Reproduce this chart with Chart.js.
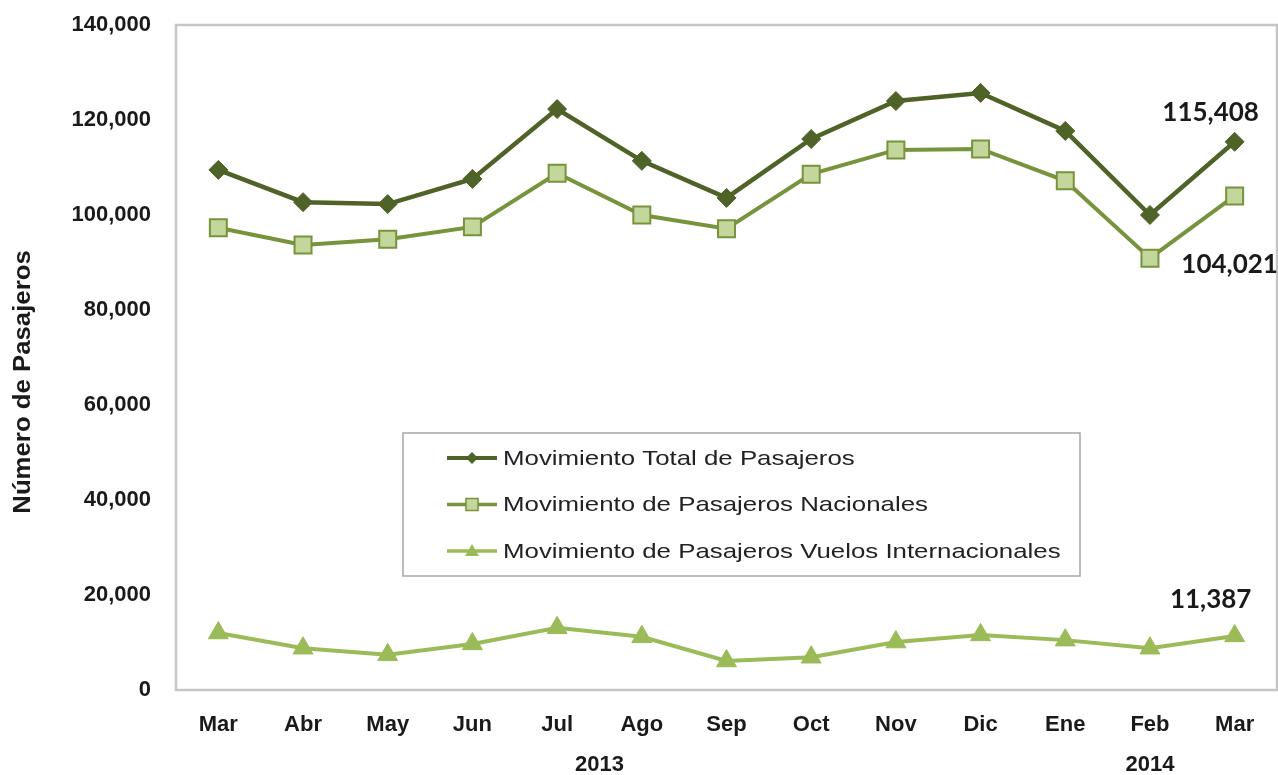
<!DOCTYPE html>
<html>
<head>
<meta charset="utf-8">
<script src="https://cdn.jsdelivr.net/npm/chart.js@4.4.1/dist/chart.umd.min.js"></script>
<style>
  html, body { margin: 0; padding: 0; background: #fff; overflow: hidden; }
  #wrap { width: 1278px; height: 775px; position: relative; }
</style>
</head>
<body>
<div id="wrap"><canvas id="chart"></canvas></div>
<script>
// months Mar 2013 .. Mar 2014
const months = ['Mar', 'Abr', 'May', 'Jun', 'Jul', 'Ago', 'Sep', 'Oct', 'Nov', 'Dic', 'Ene', 'Feb', 'Mar'];
const years = [
  { label: '2013', from: 0, to: 9 },
  { label: '2014', from: 10, to: 12 }
];

const totalPax = [109500, 102700, 102300, 107600, 122300, 111400, 103600, 116000, 124000, 125700, 117700, 100000, 115408];
const nacionalPax = [97300, 93700, 94900, 97500, 108800, 100000, 97100, 108600, 113700, 113900, 107200, 90900, 104021];
const internacionalPax = [12000, 8800, 7400, 9700, 13100, 11200, 6100, 6900, 10100, 11600, 10500, 8800, 11387];

const yTicks = [0, 20000, 40000, 60000, 80000, 100000, 120000, 140000];

const fmt = v => v.toLocaleString('en-US');

const seriesNames = [
  'Movimiento Total de Pasajeros',
  'Movimiento de Pasajeros Nacionales',
  'Movimiento de Pasajeros Vuelos Internacionales'
];
const yTitle = 'Número de Pasajeros';

// colours (Excel olive greens)
const cTotal = '#4F6228';
const cNac = '#77933C';
const cNacFill = '#C3D69B';
const cInt = '#9BBB59';

const arialB = '"Liberation Sans", Arial, sans-serif';

// plot frame, axis title, year labels, legend box, end labels
const extras = {
  id: 'extras',
  beforeDatasetsDraw(chart) {
    const { ctx, chartArea: a } = chart;
    ctx.save();
    ctx.strokeStyle = '#C6C6C6';
    ctx.lineWidth = 2.5;
    ctx.strokeRect(a.left, a.top, a.right - a.left, a.bottom - a.top);

    // y axis title (a bit stretched like the original)
    ctx.translate(24, 382);
    ctx.rotate(-Math.PI / 2);
    ctx.font = 'bold 23px ' + arialB;
    ctx.fillStyle = '#1a1a1a';
    ctx.textAlign = 'center';
    ctx.textBaseline = 'middle';
    ctx.scale(1.12, 1);
    ctx.fillText(yTitle, 0, 0);
    ctx.restore();
  },
  afterDatasetsDraw(chart) {
    const { ctx, chartArea: a, scales } = chart;
    const x = scales.x, y = scales.y;
    ctx.save();

    // year labels under the month ticks
    ctx.font = 'bold 22px ' + arialB;
    ctx.fillStyle = '#1a1a1a';
    ctx.textAlign = 'center';
    ctx.textBaseline = 'middle';
    years.forEach(yr => {
      const cx = (x.getPixelForValue(yr.from) + x.getPixelForValue(yr.to)) / 2;
      ctx.fillText(yr.label, cx, a.bottom + 75);
    });

    // last-point value labels
    const last = months.length - 1;
    const px = x.getPixelForValue(last);
    ctx.font = 'bold 26px Lato, "Liberation Sans", sans-serif';
    ctx.fillStyle = '#1a1a1a';
    ctx.fillText(fmt(totalPax[last]), px - 24, y.getPixelForValue(totalPax[last]) - 29);
    ctx.fillText(fmt(nacionalPax[last]), px - 5, y.getPixelForValue(nacionalPax[last]) + 69);
    ctx.fillText(fmt(internacionalPax[last]), px - 24, y.getPixelForValue(internacionalPax[last]) - 36);

    // legend box
    const bx = a.left + 227, by = a.top + 408, bw = 677, bh = 143;
    ctx.fillStyle = '#fff';
    ctx.fillRect(bx, by, bw, bh);
    ctx.strokeStyle = '#A6A6A6';
    ctx.lineWidth = 1.5;
    ctx.strokeRect(bx, by, bw, bh);

    const items = [
      { color: cTotal, fill: cTotal, shape: 'diamond', lw: 4 },
      { color: cNac, fill: cNacFill, shape: 'square', lw: 3.5 },
      { color: cInt, fill: cInt, shape: 'triangle', lw: 3.5 }
    ];
    items.forEach((it, i) => {
      const ly = by + 25 + i * 46.5;
      const lx0 = bx + 44, lx1 = bx + 94, mx = (lx0 + lx1) / 2;
      ctx.strokeStyle = it.color;
      ctx.lineWidth = it.lw;
      ctx.beginPath();
      ctx.moveTo(lx0, ly);
      ctx.lineTo(lx1, ly);
      ctx.stroke();
      ctx.fillStyle = it.fill;
      ctx.lineWidth = 1.5;
      ctx.beginPath();
      if (it.shape === 'diamond') {
        ctx.moveTo(mx, ly - 6); ctx.lineTo(mx + 6, ly); ctx.lineTo(mx, ly + 6); ctx.lineTo(mx - 6, ly);
        ctx.closePath(); ctx.fill();
      } else if (it.shape === 'square') {
        ctx.rect(mx - 6, ly - 6, 12, 12); ctx.fill(); ctx.stroke();
      } else {
        ctx.moveTo(mx, ly - 7); ctx.lineTo(mx + 7, ly + 5); ctx.lineTo(mx - 7, ly + 5);
        ctx.closePath(); ctx.fill();
      }
      ctx.save();
      ctx.translate(bx + 100, ly + 1);
      ctx.scale(1.23, 1);
      ctx.font = '21px ' + arialB;
      ctx.fillStyle = '#222';
      ctx.textAlign = 'left';
      ctx.textBaseline = 'middle';
      ctx.fillText(seriesNames[i], 0, 0);
      ctx.restore();
    });

    ctx.restore();
  }
};

new Chart(document.getElementById('chart'), {
  type: 'line',
  data: {
    labels: months,
    datasets: [
      {
        label: seriesNames[0],
        data: totalPax,
        borderColor: cTotal,
        backgroundColor: cTotal,
        borderWidth: 4.5,
        pointStyle: 'rectRot',
        pointRadius: 9.5,
        pointBorderWidth: 1,
        pointBackgroundColor: cTotal,
        pointBorderColor: cTotal,
        tension: 0
      },
      {
        label: seriesNames[1],
        data: nacionalPax,
        borderColor: cNac,
        backgroundColor: cNacFill,
        borderWidth: 4,
        pointStyle: 'rect',
        pointRadius: 12,
        pointBorderWidth: 2,
        pointBackgroundColor: cNacFill,
        pointBorderColor: cNac,
        tension: 0
      },
      {
        label: seriesNames[2],
        data: internacionalPax,
        borderColor: cInt,
        backgroundColor: cInt,
        borderWidth: 4,
        pointStyle: 'triangle',
        pointRadius: 11.5,
        pointBorderWidth: 1,
        pointBackgroundColor: cInt,
        pointBorderColor: cInt,
        tension: 0
      }
    ]
  },
  options: {
    responsive: true,
    maintainAspectRatio: false,
    animation: false,
    layout: { autoPadding: false, padding: { top: 25, right: 1, left: 0, bottom: 0 } },
    plugins: {
      legend: { display: false },
      tooltip: { enabled: false }
    },
    scales: {
      x: {
        offset: true,
        grid: { display: false },
        border: { display: false },
        ticks: {
          color: '#1a1a1a',
          padding: 14,
          maxRotation: 0,
          font: { family: arialB, size: 22, weight: 'bold' }
        },
        afterFit(scale) {
          scale.height = 85;
          scale.paddingLeft = 0;
          scale.paddingRight = 0;
        }
      },
      y: {
        min: 0,
        max: 140000,
        afterBuildTicks(scale) { scale.ticks = yTicks.map(v => ({ value: v })); },
        grid: { display: false },
        border: { display: false },
        ticks: {
          color: '#1a1a1a',
          padding: 17,
          callback: v => fmt(v),
          font: { family: arialB, size: 22, weight: 'bold' }
        },
        afterFit(scale) {
          scale.width = 176;
          scale.paddingTop = 0;
          scale.paddingBottom = 0;
        }
      }
    }
  },
  plugins: [extras]
});
</script>
</body>
</html>
